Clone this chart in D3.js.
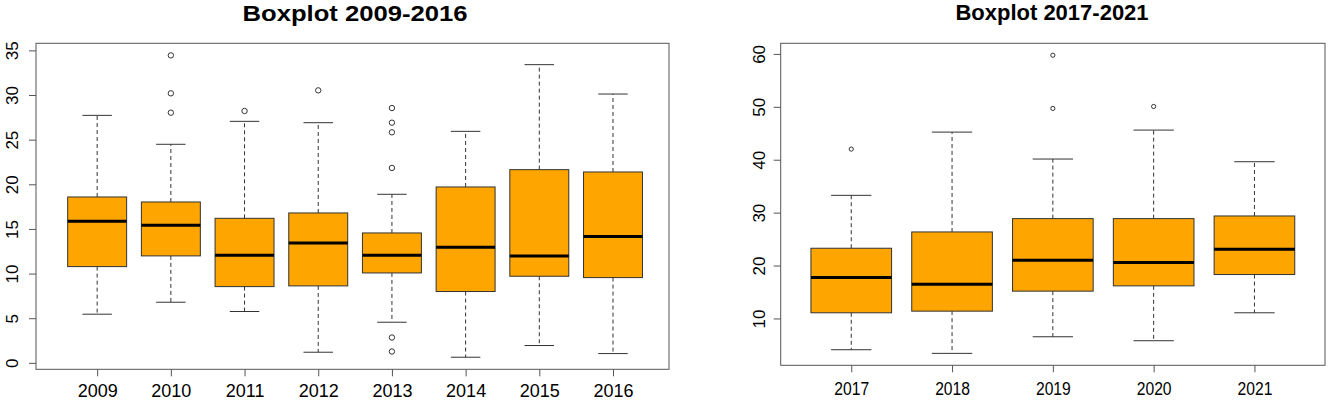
<!DOCTYPE html>
<html>
<head>
<meta charset="utf-8">
<script src="https://cdn.jsdelivr.net/npm/d3@7/dist/d3.min.js"></script>
<style>
  html, body { margin: 0; padding: 0; background: #fff; }
  svg { display: block; font-family: "Liberation Sans", Arial, sans-serif; }
</style>
</head>
<body>
<div id="chart"></div>
<script>
// two R-style boxplots side by side

// 2009-2016
const yearsA   = ["2009", "2010", "2011", "2012", "2013", "2014", "2015", "2016"];
const lowA     = [5.45, 6.79, 5.75, 1.19, 4.55, 0.63, 1.94, 1.04];
const q1A      = [10.78, 11.98, 8.54, 8.62, 10.07, 7.99, 9.70, 9.55];
const medA     = [15.86, 15.41, 12.05, 13.43, 12.05, 12.95, 11.98, 14.14];
const q3A      = [18.58, 18.02, 16.19, 16.79, 14.55, 19.70, 21.64, 21.38];
const highA    = [27.72, 24.48, 27.05, 26.90, 18.88, 25.93, 33.40, 30.11];
const outA     = [[], [34.44, 30.19, 28.02], [28.21], [30.52],
                  [28.54, 26.90, 25.82, 21.83, 2.84, 1.27], [], [], []];
const ticksA   = [0, 5, 10, 15, 20, 25, 30, 35];

// 2017-2021
const yearsB   = ["2017", "2018", "2019", "2020", "2021"];
const lowB     = [4.09, 3.40, 6.54, 5.79, 11.07];
const q1B      = [11.07, 11.38, 15.16, 16.16, 18.30];
const medB     = [17.74, 16.48, 21.01, 20.57, 23.08];
const q3B      = [23.27, 26.35, 28.87, 28.87, 29.37];
const highB    = [33.27, 45.22, 40.13, 45.60, 39.62];
const outB     = [[42.01], [], [59.75, 49.69], [50.06], []];
const ticksB   = [10, 20, 30, 40, 50, 60];

const W = 1328, H = 401;
const FILL = "#FFA500", EDGE = "#333", AXIS = "#555";

const svg = d3.select("#chart").append("svg")
  .attr("width", W).attr("height", H)
  .attr("viewBox", [0, 0, W, H]);

function rows(years, lo, q1, med, q3, hi, out) {
  return years.map((y, i) => ({ year: y, pos: i + 1, lo: lo[i], q1: q1[i], med: med[i], q3: q3[i], hi: hi[i], out: out[i] }));
}

function panel(opt) {
  const data = rows(...opt.series);
  const all = data.flatMap(d => [d.lo, d.hi, ...d.out]);
  const [mn, mx] = d3.extent(all);
  const pad = (mx - mn) * 0.04;           // R's default axis expansion

  const x = d3.scaleLinear().domain(opt.xdom).range([opt.left, opt.right]);
  const y = d3.scaleLinear().domain([mn - pad, mx + pad]).range([opt.bottom, opt.top]);
  const unit = x(2) - x(1);
  const bw = unit * 0.8;

  const g = svg.append("g");

  // title
  const t = g.append("text")
    .attr("x", opt.titleX).attr("y", opt.titleY)
    .attr("text-anchor", "middle")
    .attr("font-size", 22).attr("font-weight", "bold")
    .attr("fill", "#000")
    .text(opt.title);
  if (opt.titleLen) t.attr("textLength", opt.titleLen).attr("lengthAdjust", "spacingAndGlyphs");

  const box = g.selectAll("g.box").data(data).join("g").attr("class", "box");

  // whiskers (dashed)
  box.append("line")
    .attr("x1", d => x(d.pos)).attr("x2", d => x(d.pos))
    .attr("y1", d => y(d.q3)).attr("y2", d => y(d.hi))
    .attr("stroke", EDGE).attr("stroke-dasharray", "4,3");
  box.append("line")
    .attr("x1", d => x(d.pos)).attr("x2", d => x(d.pos))
    .attr("y1", d => y(d.q1)).attr("y2", d => y(d.lo))
    .attr("stroke", EDGE).attr("stroke-dasharray", "4,3");

  // staples
  for (const k of ["lo", "hi"]) {
    box.append("line")
      .attr("x1", d => x(d.pos) - bw / 4).attr("x2", d => x(d.pos) + bw / 4)
      .attr("y1", d => y(d[k])).attr("y2", d => y(d[k]))
      .attr("stroke", EDGE);
  }

  box.append("rect")
    .attr("x", d => x(d.pos) - bw / 2).attr("width", bw)
    .attr("y", d => y(d.q3)).attr("height", d => y(d.q1) - y(d.q3))
    .attr("fill", FILL).attr("stroke", EDGE);

  box.append("line")
    .attr("x1", d => x(d.pos) - bw / 2).attr("x2", d => x(d.pos) + bw / 2)
    .attr("y1", d => y(d.med)).attr("y2", d => y(d.med))
    .attr("stroke", "#000").attr("stroke-width", 3);

  box.selectAll("circle").data(d => d.out.map(v => ({ pos: d.pos, v }))).join("circle")
    .attr("cx", d => x(d.pos)).attr("cy", d => y(d.v))
    .attr("r", opt.ptR).attr("fill", "none").attr("stroke", EDGE);

  // frame
  g.append("rect")
    .attr("x", opt.left).attr("y", opt.top)
    .attr("width", opt.right - opt.left).attr("height", opt.bottom - opt.top)
    .attr("fill", "none").attr("stroke", AXIS);

  // x axis
  const xa = g.append("g").attr("transform", `translate(0,${opt.bottom})`)
    .call(d3.axisBottom(x).tickValues(data.map(d => d.pos)).tickFormat((p, i) => data[i].year)
      .tickSize(7).tickPadding(opt.xPad));
  xa.select(".domain").remove();
  xa.selectAll("line").attr("stroke", AXIS);
  xa.selectAll("text").attr("font-size", 18).attr("fill", "#000")
    .attr("font-family", null)
    .attr("transform", opt.xScaleX ? `scale(${opt.xScaleX},1)` : null);
  xa.attr("font-family", null);

  // y axis, labels rotated like R's default las=0
  const ya = g.append("g").attr("transform", `translate(${opt.left},0)`)
    .call(d3.axisLeft(y).tickValues(opt.ticks).tickSize(7));
  ya.select(".domain").remove();
  ya.selectAll("line").attr("stroke", AXIS);
  ya.selectAll("text")
    .attr("x", null).attr("dy", null)
    .attr("text-anchor", "middle").attr("font-size", 17).attr("fill", "#000")
    .attr("transform", `translate(${-opt.yOff},0) rotate(-90)`);
  ya.attr("font-family", null);
}

panel({
  series: [yearsA, lowA, q1A, medA, q3A, highA, outA],
  ticks: ticksA, xdom: [0.17, 8.76],
  left: 36, right: 669, top: 43.3, bottom: 369.3,
  title: "Boxplot 2009-2016", titleX: 355, titleY: 20.7, titleLen: 225,
  xPad: 8, yOff: 17.7, ptR: 2.7
});

panel({
  series: [yearsB, lowB, q1B, medB, q3B, highB, outB],
  ticks: ticksB, xdom: [0.3, 5.7],
  left: 780.7, right: 1325, top: 43.3, bottom: 365.3,
  title: "Boxplot 2017-2021", titleX: 1052, titleY: 19.8,
  xPad: 10, xScaleX: 0.87, yOff: 15.7, ptR: 2.1
});
</script>
</body>
</html>
